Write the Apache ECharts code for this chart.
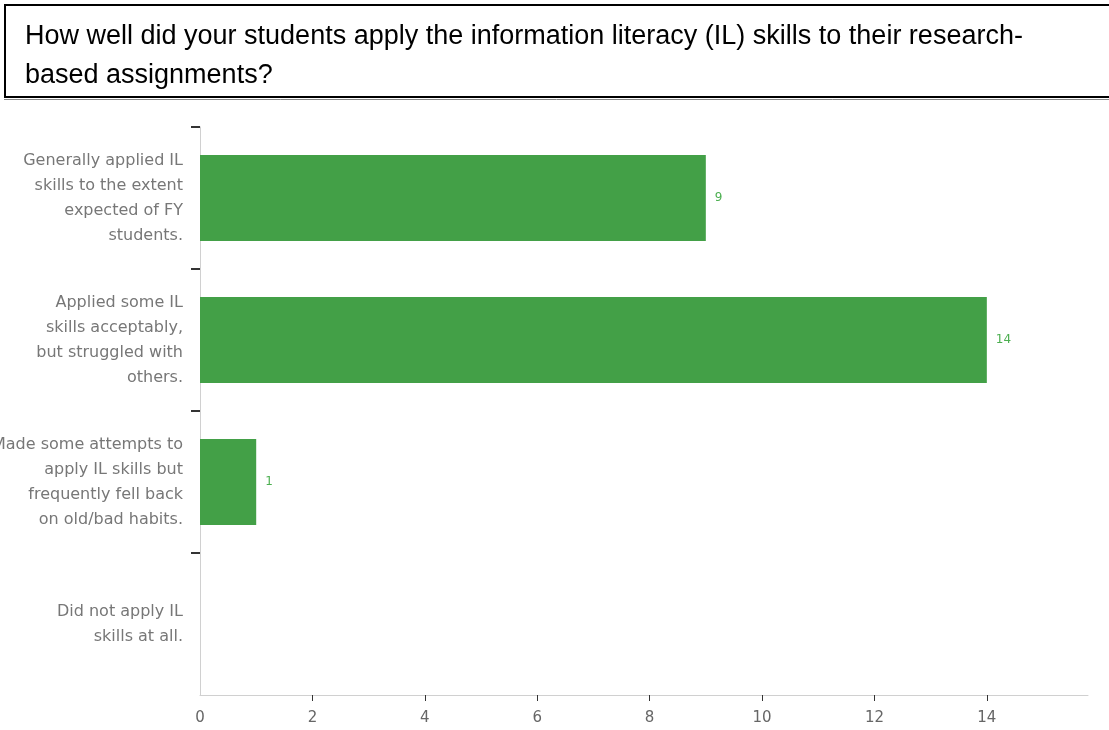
<!DOCTYPE html>
<html>
<head>
<meta charset="utf-8">
<script src="https://cdn.jsdelivr.net/npm/echarts@6/dist/echarts.min.js"></script>
<style>
html,body{margin:0;padding:0;background:#fff;}
#chart{width:1109px;height:730px;}
</style>
</head>
<body>
<div id="chart"></div>
<script>
const titleLines = [
  "How well did your students apply the information literacy (IL) skills to their research-",
  "based assignments?"
];
const categories = [
  "Generally applied IL\nskills to the extent\nexpected of FY\nstudents.",
  "Applied some IL\nskills acceptably,\nbut struggled with\nothers.",
  "Made some attempts to\napply IL skills but\nfrequently fell back\non old/bad habits.",
  "Did not apply IL\nskills at all."
];
const counts = [9, 14, 1, null];
const xTicks = [2, 4, 6, 8, 10, 12, 14];
const xLabels = [0, 2, 4, 6, 8, 10, 12, 14];
const yBoundaryTicks = [0, 1, 2, 3];

const chart = echarts.init(document.getElementById('chart'), null, {renderer: 'canvas'});
const font = '"DejaVu Sans", sans-serif';
chart.setOption({
  animation: false,
  backgroundColor: '#fff',
  graphic: [
    {type: 'line', shape: {x1: 5, y1: 5, x2: 1109, y2: 5}, style: {stroke: '#000', lineWidth: 2}},
    {type: 'line', shape: {x1: 5, y1: 4, x2: 5, y2: 98}, style: {stroke: '#000', lineWidth: 2}},
    {type: 'line', shape: {x1: 4, y1: 97, x2: 1109, y2: 97}, style: {stroke: '#000', lineWidth: 2}},
    {type: 'line', shape: {x1: 4, y1: 99.5, x2: 1109, y2: 99.5}, style: {stroke: '#888', lineWidth: 1}},
    {type: 'text', left: 25, top: 17, style: {text: titleLines.join('\n'), font: '27px "Liberation Sans Narrow", "Liberation Sans", sans-serif', fill: '#000', lineHeight: 39}}
  ],
  grid: {left: 200, right: 21, top: 127, bottom: 35, containLabel: false, outerBoundsMode: 'none'},
  xAxis: {
    type: 'value', min: 0, max: 15.8, interval: 2, position: 'bottom',
    axisLine: {show: true, onZero: false, lineStyle: {color: '#d0d0d0', width: 1}},
    axisTick: {show: true, length: 6, lineStyle: {color: '#333'}, customValues: xTicks},
    axisLabel: {color: '#666', fontSize: 15, fontFamily: font, margin: 16, customValues: xLabels},
    splitLine: {show: false}
  },
  yAxis: [{
    type: 'category', data: categories, inverse: true, position: 'left',
    axisLine: {show: true, onZero: false, lineStyle: {color: '#d0d0d0', width: 1}},
    axisTick: {show: false},
    axisLabel: {color: '#777', fontSize: 16, fontFamily: font, margin: 17, lineHeight: 25, align: 'right'},
    splitLine: {show: false}
  }, {
    type: 'value', min: 0, max: 4, interval: 1, inverse: true, position: 'left',
    axisLine: {show: false, onZero: false},
    axisTick: {show: true, length: 9, lineStyle: {color: '#333', width: 2}, customValues: yBoundaryTicks},
    axisLabel: {show: false},
    splitLine: {show: false}
  }],
  series: [{
    type: 'bar', data: counts, barCategoryGap: '39.5%', yAxisIndex: 0,
    itemStyle: {color: '#43a047'},
    label: {show: true, position: 'right', distance: 9, color: '#4caf50', fontSize: 12, fontFamily: font}
  }]
});
</script>
</body>
</html>
